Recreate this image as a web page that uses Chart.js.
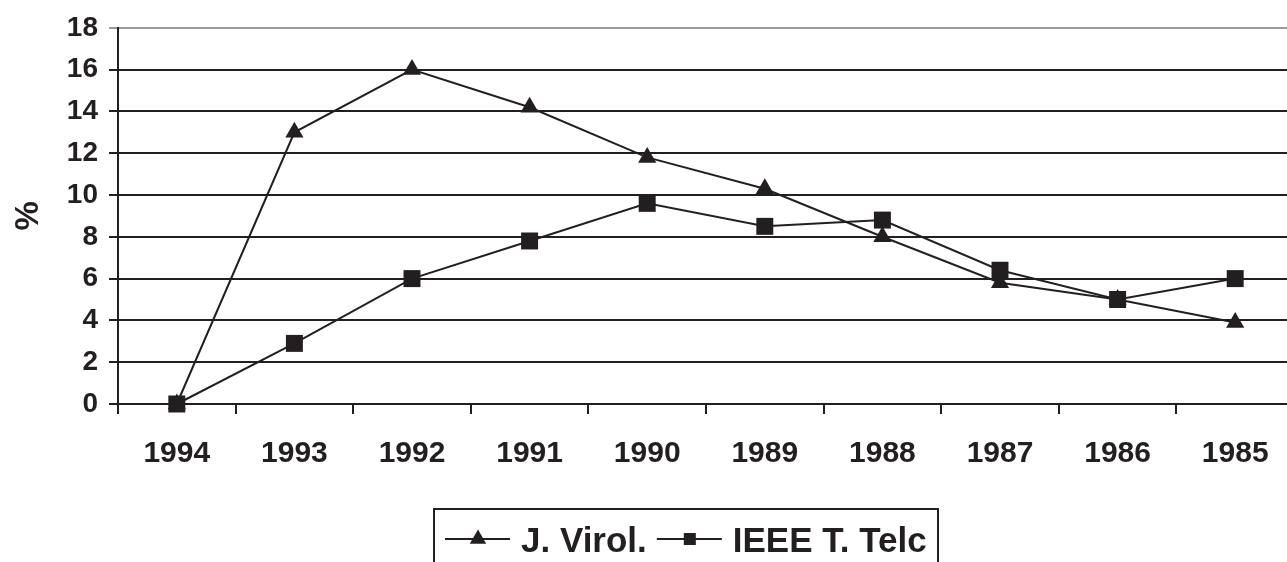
<!DOCTYPE html>
<html>
<head>
<meta charset="utf-8">
<script src="https://cdn.jsdelivr.net/npm/chart.js@4.4.0/dist/chart.umd.min.js"></script>
<style>
    html, body { margin: 0; padding: 0; background: #fff; overflow: hidden; }
    #wrap { width: 1294px; height: 562px; }
</style>
</head>
<body>
<div id="wrap"><canvas id="lineChart" width="1294" height="562"></canvas></div>
<script>
const years = ["1994", "1993", "1992", "1991", "1990", "1989", "1988", "1987", "1986", "1985"];
const virolData = [0, 13, 16, 14.2, 11.8, 10.3, 8, 5.8, 5, 3.9];
const ieeeData = [0, 2.9, 6, 7.8, 9.6, 8.5, 8.8, 6.4, 5, 6];
const yTicks = [0, 2, 4, 6, 8, 10, 12, 14, 16, 18];

const INK = "#231f20";
const FONT = '"Liberation Sans", Arial, sans-serif';

// Boxed legend under the chart, line sample + marker like the original
const boxLegendPlugin = {
    id: 'boxLegend',
    afterDraw(chart) {
        const ctx = chart.ctx;
        const left = 434, top = 509, y = 539;
        ctx.save();
        ctx.strokeStyle = INK;
        ctx.fillStyle = INK;
        ctx.lineWidth = 2;
        ctx.strokeRect(left, top, 504, 80);
        ctx.font = 'bold 35px ' + FONT;
        ctx.textBaseline = 'alphabetic';
        let x = left + 11;
        chart.data.datasets.forEach((ds) => {
            ctx.beginPath();
            ctx.moveTo(x, y);
            ctx.lineTo(x + 65, y);
            ctx.lineWidth = 2;
            ctx.stroke();
            Chart.helpers.drawPoint(ctx, {
                pointStyle: ds.pointStyle,
                radius: ds.pointStyle === 'rect' ? 8.5 : 9.5,
                rotation: 0,
                borderWidth: 0
            }, x + 33, y);
            ctx.fillText(ds.label, x + 76, 552);
            x += 76 + ctx.measureText(ds.label).width + 10;
        });
        ctx.restore();
    }
};

new Chart(document.getElementById("lineChart"), {
    type: "line",
    data: {
        labels: years,
        datasets: [
            {
                label: "J. Virol.",
                data: virolData,
                borderColor: INK,
                backgroundColor: INK,
                borderWidth: 2,
                tension: 0,
                pointStyle: 'triangle',
                pointRadius: 10.5,
                pointBorderWidth: 0,
                pointBackgroundColor: INK,
                clip: false,
            },
            {
                label: "IEEE T. Telc",
                data: ieeeData,
                borderColor: INK,
                backgroundColor: INK,
                borderWidth: 2,
                tension: 0,
                pointStyle: 'rect',
                pointRadius: 12,
                pointBorderWidth: 0,
                pointBackgroundColor: INK,
                clip: false,
            },
        ],
    },
    options: {
        responsive: false,
        animation: false,
        layout: { autoPadding: false, padding: { top: 25, left: 0, right: 0, bottom: 0 } },
        plugins: {
            legend: { display: false },
            tooltip: { enabled: false },
        },
        scales: {
            x: {
                offset: true,
                afterFit(scale) { scale.height = 158; },
                grid: {
                    offset: true,
                    drawOnChartArea: false,
                    drawTicks: true,
                    tickLength: 10,
                    color: INK,
                    lineWidth: 2,
                },
                border: { display: true, color: INK, width: 2 },
                ticks: {
                    color: INK,
                    font: { family: FONT, size: 30, weight: 'bold' },
                    padding: 22,
                    maxRotation: 0,
                    autoSkip: false,
                },
            },
            y: {
                min: 0,
                max: 18,
                afterFit(scale) { scale.width = 118; },
                afterBuildTicks(scale) { scale.ticks = yTicks.map(v => ({ value: v })); },
                grid: {
                    color: (c) => (c.tick && c.tick.value === 18 ? "#9a9a9a" : INK),
                    lineWidth: 2,
                    tickLength: 9,
                },
                border: { display: true, color: INK, width: 2 },
                ticks: {
                    color: INK,
                    font: { family: FONT, size: 28, weight: 'bold' },
                    padding: 11,
                },
                title: {
                    display: true,
                    text: "%",
                    color: INK,
                    font: { family: FONT, size: 33, weight: 'bold' },
                    padding: { top: 9, bottom: 0 },
                },
            },
        },
    },
    plugins: [boxLegendPlugin],
});
</script>
</body>
</html>
